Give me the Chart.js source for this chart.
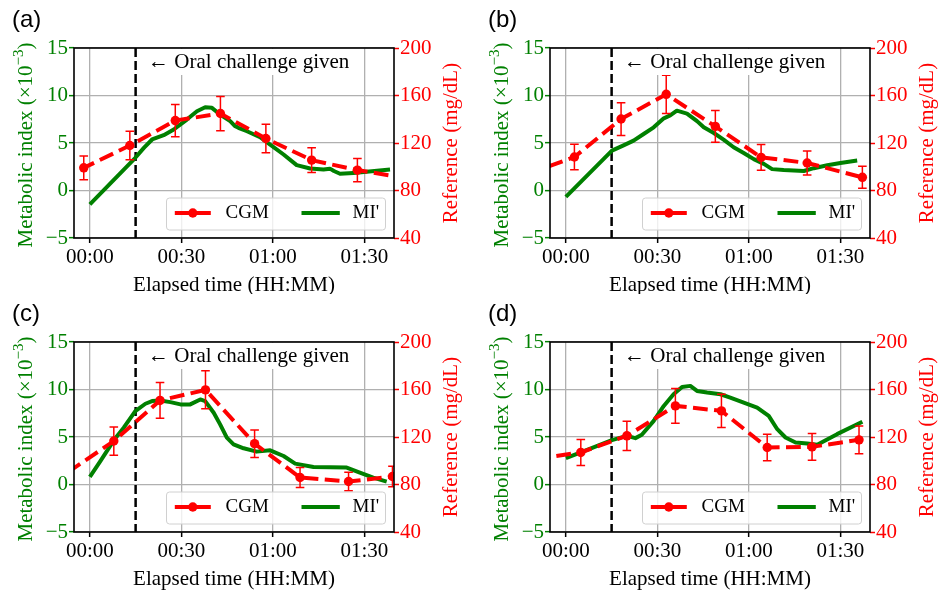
<!DOCTYPE html>
<html>
<head>
<meta charset="utf-8">
<script src="https://cdn.jsdelivr.net/npm/chart.js@4.4.1/dist/chart.umd.min.js"></script>
<style>
  body { margin: 0; background: #fff; }
  #wrap { position: relative; width: 938px; height: 595px; }
  canvas { position: absolute; }
</style>
</head>
<body>
<div id="wrap">
  <canvas id="pa" width="469" height="294" style="left:0;top:0"></canvas>
  <canvas id="pb" width="462" height="294" style="left:476px;top:0"></canvas>
  <canvas id="pc" width="469" height="301" style="left:0;top:294px"></canvas>
  <canvas id="pd" width="462" height="301" style="left:476px;top:294px"></canvas>
</div>
<script>
// x axis ticks (minutes after start)
var xTickValues = [0, 30, 60, 90];
var xTickLabels = ['00:00', '00:30', '01:00', '01:30'];

// (a)
var cgmTimeA = [-17, -2, 13.1, 28, 42.8, 57.7, 72.7, 87.7, 102.7];
var cgmValueA = [99.5, 99.1, 117.9, 138.9, 144.8, 123.8, 105.6, 97.2, 90.8];
var cgmErrA = [10, 10, 12, 13.6, 14.4, 12, 10.5, 9.8, 9];
var miTimeA = [0, 14.9, 17.7, 20.4, 24.2, 27.5, 31.8, 35.1, 37.8, 40, 42.7, 46, 47.5, 48.7, 51.5, 55.8, 59.1, 63.5, 67.8, 72.2, 76.6, 78.7, 80, 82, 86.4, 90.7, 98.4];
var miValueA = [-1.46, 3.44, 4.49, 5.37, 5.82, 6.42, 7.47, 8.35, 8.77, 8.7, 8, 7.3, 6.8, 6.6, 6.24, 5.61, 4.84, 3.79, 2.67, 2.32, 2.21, 2.3, 2.05, 1.76, 1.83, 1.97, 2.21];

// (b)
var cgmTimeB = [-12.2, 2.8, 18.1, 32.9, 49, 64, 79.1, 97.2];
var cgmValueB = [94.4, 108.2, 140.2, 161, 134, 107.9, 103.2, 91.1];
var cgmErrB = [9.4, 10.8, 13.8, 16.1, 13.3, 10.8, 10.1, 9.3];
var miTimeB = [0, 15.1, 18.9, 22.2, 25.5, 28.8, 32.1, 34.2, 36.4, 39.7, 43, 45.2, 48.5, 51.7, 55, 58.3, 61.6, 64.9, 67.6, 71.4, 78, 81.3, 85.7, 90, 95.5];
var miValueB = [-0.68, 4.2, 4.75, 5.25, 5.95, 6.65, 7.6, 7.9, 8.4, 8.1, 7.3, 6.65, 6.05, 5.35, 4.55, 3.95, 3.3, 2.8, 2.25, 2.15, 2.05, 2.35, 2.65, 2.9, 3.15];

// (c)
var cgmTimeC = [-7.2, 7.85, 23, 37.9, 54, 68.9, 84.8, 99.2];
var cgmValueC = [90.3, 116.6, 150.8, 159.7, 114.4, 85.9, 82.5, 86.7];
var cgmErrC = [9, 11.9, 15, 16, 11.6, 8.5, 7.8, 8.6];
var miTimeC = [0, 3.5, 7.85, 11.1, 14.9, 18.2, 20.4, 23.1, 26.4, 29.7, 32.9, 36.2, 37.8, 40.6, 42.7, 44.9, 47.1, 50.4, 54.7, 59.1, 63.5, 67.3, 73.3, 84.2, 88.5, 92.9, 97.3];
var miValueC = [0.8, 2.48, 4.65, 5.98, 7.73, 8.5, 8.78, 8.85, 8.67, 8.43, 8.43, 8.95, 8.78, 7.55, 6.33, 4.93, 4.23, 3.81, 3.46, 3.6, 3, 2.2, 1.85, 1.78, 1.26, 0.73, 0.31];

// (d)
var cgmTimeD = [-10, 4.9, 20, 35.9, 51, 66, 80.7, 96.1];
var cgmValueD = [101.5, 107, 121, 146.2, 142, 111.2, 111.7, 117.6];
var cgmErrD = [10, 10.9, 12.3, 14.7, 14, 11.2, 11.2, 11.6];
var miTimeD = [0, 4.9, 15.1, 20, 22.8, 24.9, 28.8, 32.1, 35.3, 38.1, 40.8, 43, 46.3, 50.7, 53.9, 58.3, 62.7, 66.5, 69.3, 72, 75.3, 79.1, 82.4, 88.9, 97.2];
var miValueD = [2.78, 3.37, 4.67, 5.12, 4.88, 5.23, 6.7, 8.27, 9.5, 10.27, 10.38, 9.85, 9.68, 9.5, 9.15, 8.63, 8.1, 7.22, 5.82, 4.95, 4.42, 4.32, 4.18, 5.3, 6.6];

var RED = '#ff0000', GREEN = '#008000', GRID = '#b0b0b0';
var SERIF = "'Liberation Serif', 'Times New Roman', serif";
var ONSET = 15;

function points(ts, vs) {
  return ts.map(function (t, i) { return {x: t, y: vs[i]}; });
}

function extrasPlugin(label, cgmT, cgmV, cgmE) {
  return {
    id: 'extras',
    beforeDatasetsDraw: function (chart) {
      var a = chart.chartArea, ctx = chart.ctx;
      var x = chart.scales.x.getPixelForValue(ONSET);
      ctx.save();
      ctx.strokeStyle = '#000';
      ctx.lineWidth = 2.5;
      ctx.setLineDash([9, 4]);
      ctx.beginPath();
      ctx.moveTo(x, a.top);
      ctx.lineTo(x, a.bottom);
      ctx.stroke();
      ctx.restore();
    },
    afterDatasetDraw: function (chart, args) {
      if (args.index !== 1) return;
      // error bars go over MI' but under the CGM line
      var a = chart.chartArea, ctx = chart.ctx;
      var xs = chart.scales.x, ys = chart.scales.y1;
      ctx.save();
      ctx.beginPath();
      ctx.rect(a.left, a.top, a.right - a.left, a.bottom - a.top);
      ctx.clip();
      ctx.strokeStyle = RED;
      ctx.lineWidth = 1.5;
      cgmT.forEach(function (t, i) {
        var x = xs.getPixelForValue(t);
        var lo = ys.getPixelForValue(cgmV[i] - cgmE[i]);
        var hi = ys.getPixelForValue(cgmV[i] + cgmE[i]);
        ctx.beginPath();
        ctx.moveTo(x, lo); ctx.lineTo(x, hi);
        ctx.moveTo(x - 4.3, lo); ctx.lineTo(x + 4.3, lo);
        ctx.moveTo(x - 4.3, hi); ctx.lineTo(x + 4.3, hi);
        ctx.stroke();
      });
      ctx.restore();
    },
    afterDatasetsDraw: function (chart) {
      var a = chart.chartArea, ctx = chart.ctx;
      var x0 = chart.scales.x.getPixelForValue(ONSET) + 12.5;
      var txt = '\u2190 Oral challenge given';
      ctx.save();
      ctx.font = '21px ' + SERIF;
      var w = ctx.measureText(txt).width;
      ctx.fillStyle = '#fff';
      ctx.fillRect(x0 - 4, a.top + 1, w + 8, 26);
      ctx.fillStyle = '#000';
      ctx.textAlign = 'left';
      ctx.textBaseline = 'middle';
      ctx.fillText(txt, x0, a.top + 14);
      ctx.restore();
    },
    afterDraw: function (chart) {
      var a = chart.chartArea, ctx = chart.ctx;
      var cx = (a.left + a.right) / 2, cy = (a.top + a.bottom) / 2;
      ctx.save();

      // legend
      var lx = a.left + 92.5, ly = a.bottom - 40, lw = 219, lh = 32;
      ctx.globalAlpha = 0.8;
      ctx.fillStyle = '#fff';
      ctx.beginPath();
      ctx.roundRect(lx, ly, lw, lh, 3);
      ctx.fill();
      ctx.globalAlpha = 1;
      ctx.strokeStyle = '#d0d0d0';
      ctx.lineWidth = 1;
      ctx.stroke();
      var my = ly + 15;
      ctx.strokeStyle = RED;
      ctx.lineWidth = 4;
      ctx.setLineDash([14.8, 6.4]);
      ctx.beginPath();
      ctx.moveTo(lx + 8.3, my); ctx.lineTo(lx + 44.3, my);
      ctx.stroke();
      ctx.setLineDash([]);
      ctx.fillStyle = RED;
      ctx.beginPath();
      ctx.arc(lx + 26.3, my, 4.7, 0, Math.PI * 2);
      ctx.fill();
      ctx.strokeStyle = GREEN;
      ctx.beginPath();
      ctx.moveTo(lx + 135, my); ctx.lineTo(lx + 173.3, my);
      ctx.stroke();
      ctx.fillStyle = '#000';
      ctx.font = '19px ' + SERIF;
      ctx.textAlign = 'left';
      ctx.textBaseline = 'middle';
      ctx.fillText('CGM', lx + 59, my);
      ctx.fillText("MI'", lx + 186, my);

      // frame
      ctx.strokeStyle = '#000';
      ctx.lineWidth = 1.6;
      ctx.strokeRect(a.left, a.top, a.right - a.left, a.bottom - a.top);

      // axis titles
      ctx.font = '21px ' + SERIF;
      ctx.textAlign = 'center';
      ctx.fillText('Elapsed time (HH:MM)', cx, a.bottom + 47);

      ctx.save();
      ctx.translate(a.right + 57, cy);
      ctx.rotate(-Math.PI / 2);
      ctx.fillStyle = RED;
      ctx.fillText('Reference (mg/dL)', 0, 0);
      ctx.restore();

      ctx.save();
      ctx.translate(a.left - 49.5, cy + 2);
      ctx.rotate(-Math.PI / 2);
      ctx.fillStyle = GREEN;
      ctx.textAlign = 'left';
      ctx.textBaseline = 'alphabetic';
      var p1 = 'Metabolic index (\u00d710', p2 = '\u22123', p3 = ')';
      ctx.font = '21px ' + SERIF;
      var w1 = ctx.measureText(p1).width, w3 = ctx.measureText(p3).width;
      ctx.font = '15px ' + SERIF;
      var w2 = ctx.measureText(p2).width;
      var sx = -(w1 + w2 + w3) / 2;
      ctx.font = '21px ' + SERIF;
      ctx.fillText(p1, sx, 7);
      ctx.fillText(p3, sx + w1 + w2, 7);
      ctx.font = '15px ' + SERIF;
      ctx.fillText(p2, sx + w1, -2);
      ctx.restore();

      // panel label
      ctx.fillStyle = '#000';
      ctx.font = '24px "Liberation Sans", Arial, sans-serif';
      ctx.textAlign = 'left';
      ctx.textBaseline = 'alphabetic';
      ctx.fillText(label, a.left - 62, a.top - 21);
      ctx.restore();
    }
  };
}

function makePanel(id, label, cgmT, cgmV, cgmE, miT, miV) {
  var canvas = document.getElementById(id);
  var w = canvas.width, h = canvas.height;
  var tickFont = {family: SERIF, size: 21};

  return new Chart(canvas, {
    type: 'line',
    data: {
      datasets: [{
        label: 'CGM',
        data: points(cgmT, cgmV),
        yAxisID: 'y1',
        borderColor: RED,
        backgroundColor: RED,
        borderWidth: 4,
        borderDash: [14.8, 6.4],
        pointRadius: 4.7,
        pointBorderWidth: 0,
        pointBackgroundColor: RED,
        clip: 0
      }, {
        label: "MI'",
        data: points(miT, miV),
        yAxisID: 'y',
        borderColor: GREEN,
        borderWidth: 4,
        borderJoinStyle: 'round',
        pointRadius: 0,
        clip: 0
      }]
    },
    options: {
      responsive: false,
      animation: false,
      devicePixelRatio: 1,
      layout: {padding: {top: 48, left: 0, right: 0, bottom: 0}},
      plugins: {
        legend: {display: false},
        tooltip: {enabled: false}
      },
      scales: {
        x: {
          type: 'linear',
          min: -5.2,
          max: 99.7,
          afterBuildTicks: function (scale) {
            scale.ticks = xTickValues.map(function (v) { return {value: v}; });
          },
          afterFit: function (scale) { scale.height = h - 238; },
          ticks: {
            font: tickFont,
            color: '#000',
            padding: 2,
            maxRotation: 0,
            autoSkip: false,
            callback: function (value) { return xTickLabels[xTickValues.indexOf(value)]; }
          },
          grid: {color: GRID, lineWidth: 1.3, tickColor: '#000', tickLength: 5, tickWidth: 1.5},
          border: {display: false}
        },
        y: {
          position: 'left',
          min: -5,
          max: 15,
          afterFit: function (scale) { scale.width = 74; },
          ticks: {
            stepSize: 5,
            font: tickFont,
            color: GREEN,
            padding: 1,
            callback: function (v) { return v < 0 ? '\u2212' + Math.abs(v) : String(v); }
          },
          grid: {color: GRID, lineWidth: 1.3, tickColor: GREEN, tickLength: 5, tickWidth: 1.5},
          border: {display: false}
        },
        y1: {
          position: 'right',
          min: 40,
          max: 200,
          afterFit: function (scale) { scale.width = w - 394; },
          ticks: {stepSize: 40, font: tickFont, color: RED, padding: 1},
          grid: {drawOnChartArea: false, tickColor: RED, tickLength: 5, tickWidth: 1.5},
          border: {display: false}
        }
      }
    },
    plugins: [extrasPlugin(label, cgmT, cgmV, cgmE)]
  });
}

makePanel('pa', '(a)', cgmTimeA, cgmValueA, cgmErrA, miTimeA, miValueA);
makePanel('pb', '(b)', cgmTimeB, cgmValueB, cgmErrB, miTimeB, miValueB);
makePanel('pc', '(c)', cgmTimeC, cgmValueC, cgmErrC, miTimeC, miValueC);
makePanel('pd', '(d)', cgmTimeD, cgmValueD, cgmErrD, miTimeD, miValueD);
</script>
</body>
</html>
